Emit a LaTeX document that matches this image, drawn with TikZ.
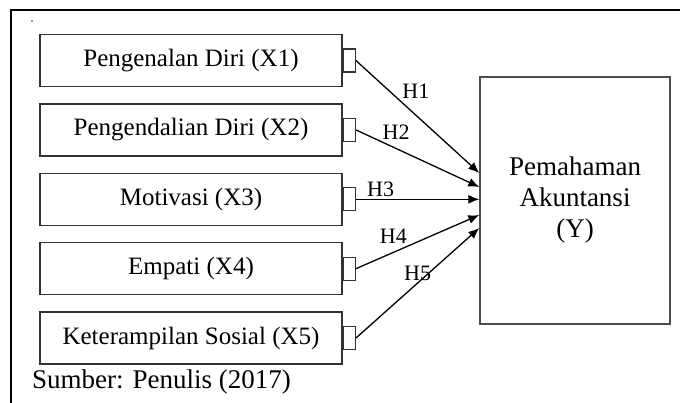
\documentclass[tikz,border=0pt]{standalone}
\usepackage{fontspec}
\setmainfont{Liberation Serif}
\usepackage{tikz}
\usetikzlibrary{positioning, calc, arrows.meta}

\begin{document}
\begin{tikzpicture}[x=1pt, y=-1pt,
                var/.style={rectangle, draw=black!80, line width=1.4pt, minimum width=302pt, minimum height=52pt, inner sep=0pt, font=\fontsize{25}{30}\selectfont},
                stub/.style={rectangle, draw=black!80, line width=1.2pt, minimum width=12pt, minimum height=23pt, inner sep=0pt},
                result/.style={rectangle, draw=black!70, line width=1.4pt, minimum width=190pt, minimum height=247pt, align=center, font=\fontsize{27}{31}\selectfont},
                hyp/.style={font=\fontsize{22}{22}\selectfont, inner sep=1.5pt},
                paths/.style={line width=1.3pt, -{Latex[length=11pt, width=9pt]}}
            ]
                \useasboundingbox (0,0) rectangle (680,403);

                % Frame
                \draw[line width=1.5pt] (11,403) -- (11,10) -- (680,10);
                \fill[black!40] (31,20) rectangle (33,22);

                % Nodes
                \node[var] (x1) at (191,60.5) {Pengenalan Diri (X1)};
                \node[var, below = 16pt of x1] (x2) {Pengendalian Diri (X2)};
                \node[var, below = 16pt of x2] (x3) {Motivasi (X3)};
                \node[var, below = 16pt of x3] (x4) {Empati (X4)};
                \node[var, below = 16pt of x4] (x5) {Keterampilan Sosial (X5)};

                \node[stub, right = 0pt of x1] (s1) {};
                \node[stub, right = 0pt of x2] (s2) {};
                \node[stub, right = 0pt of x3] (s3) {};
                \node[stub, right = 0pt of x4] (s4) {};
                \node[stub, right = 0pt of x5] (s5) {};

                \node[result] (y) at (575,200.5) {Pemahaman\\Akuntansi\\(Y)};

                % Arrow ends on Y
                \coordinate (h1) at ($(y.west)+(0,-27.5)$);
                \coordinate (h2) at ($(y.west)+(0,-13.5)$);
                \coordinate (h3) at (s3.east -| y.west);
                \coordinate (h4) at ($(y.west)+(0,14.5)$);
                \coordinate (h5) at ($(y.west)+(0,27.5)$);

                % Paths: hypotheses
                \draw[paths] (s1.east) -- (h1) node[hyp, pos=0.36, above right] {H1};
                \draw[paths] (s2.east) -- (h2) node[hyp, pos=0.2, above right] {H2};
                \draw[paths] (s3.east) -- (h3) node[hyp, pos=0.2, above] {H3};
                \draw[paths] (s4.east) -- (h4) node[hyp, pos=0.43, above left] {H4};
                \draw[paths] (s5.east) -- (h5) node[hyp, pos=0.5, above] {H5};

                % Source
                \node[anchor=base west, inner sep=0pt, font=\fontsize{27}{30}\selectfont] (src) at (32,388) {Sumber: Penulis (2017)};
            \end{tikzpicture}
\end{document}
